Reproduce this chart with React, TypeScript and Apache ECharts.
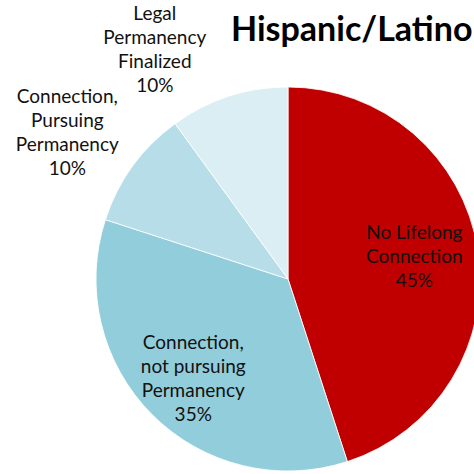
import React, { useEffect, useRef } from "react";
import * as echarts from "echarts";

const categories = [
  "No Lifelong\nConnection",
  "Connection,\nnot pursuing\nPermanency",
  "Connection,\nPursuing\nPermanency",
  "Legal\nPermanency\nFinalized",
];
const values = [45, 35, 10, 10];
const colors = ["#C00000", "#92CDDC", "#B7DEE8", "#DAEEF3"];
const titleText = "Hispanic/Latino";

export default function App() {
  const ref = useRef<HTMLDivElement>(null);
  useEffect(() => {
    if (!ref.current) return;
    const chart = echarts.init(ref.current, undefined, { renderer: "svg" });
    const font = "Lato, 'Open Sans', sans-serif";
    const center = [288, 279];
    const labelStyle = {
      fontFamily: font,
      fontSize: 19,
      lineHeight: 24,
      color: "#111",
      align: "center" as const,
    };
    const offsets: Record<number, number[]> = {
      0: [-6, -3],
      1: [0, 4],
      2: [-16, 1],
      3: [-55, 10],
    };
    const baseData = categories.map((c, i) => ({
      name: c,
      value: values[i],
      itemStyle: { color: colors[i] },
    }));
    const labelData = (show: (i: number) => boolean) =>
      categories.map((c, i) => ({
        name: c,
        value: values[i],
        label: { show: show(i), offset: offsets[i] },
      }));
    const labelSeries = (radius: number[], show: (i: number) => boolean) => ({
      type: "pie",
      center,
      radius,
      startAngle: 90,
      silent: true,
      avoidLabelOverlap: false,
      labelLayout: { hideOverlap: false },
      itemStyle: { color: "transparent" },
      labelLine: { show: false },
      label: {
        position: "inside",
        formatter: "{b}\n{d}%",
        ...labelStyle,
      },
      data: labelData(show),
    });
    chart.setOption({
      animation: false,
      title: {
        text: titleText,
        left: 226,
        top: 5,
        textStyle: {
          fontFamily: font,
          fontWeight: "bold",
          fontSize: 34,
          color: "#000",
        },
      },
      series: [
        {
          type: "pie",
          center,
          radius: [0, 192],
          startAngle: 90,
          clockwise: true,
          silent: true,
          label: { show: false },
          labelLine: { show: false },
          itemStyle: { borderColor: "#fff", borderWidth: 0.8 },
          data: baseData,
        },
        labelSeries([70, 192], (i) => i < 2),
        labelSeries([200, 300], (i) => i === 2),
        labelSeries([200, 300], (i) => i === 3),
      ],
    });
    return () => chart.dispose();
  }, []);
  return (
    <div
      ref={ref}
      style={{ position: "fixed", left: 0, top: 0, width: 474, height: 474, background: "#fff" }}
    />
  );
}
